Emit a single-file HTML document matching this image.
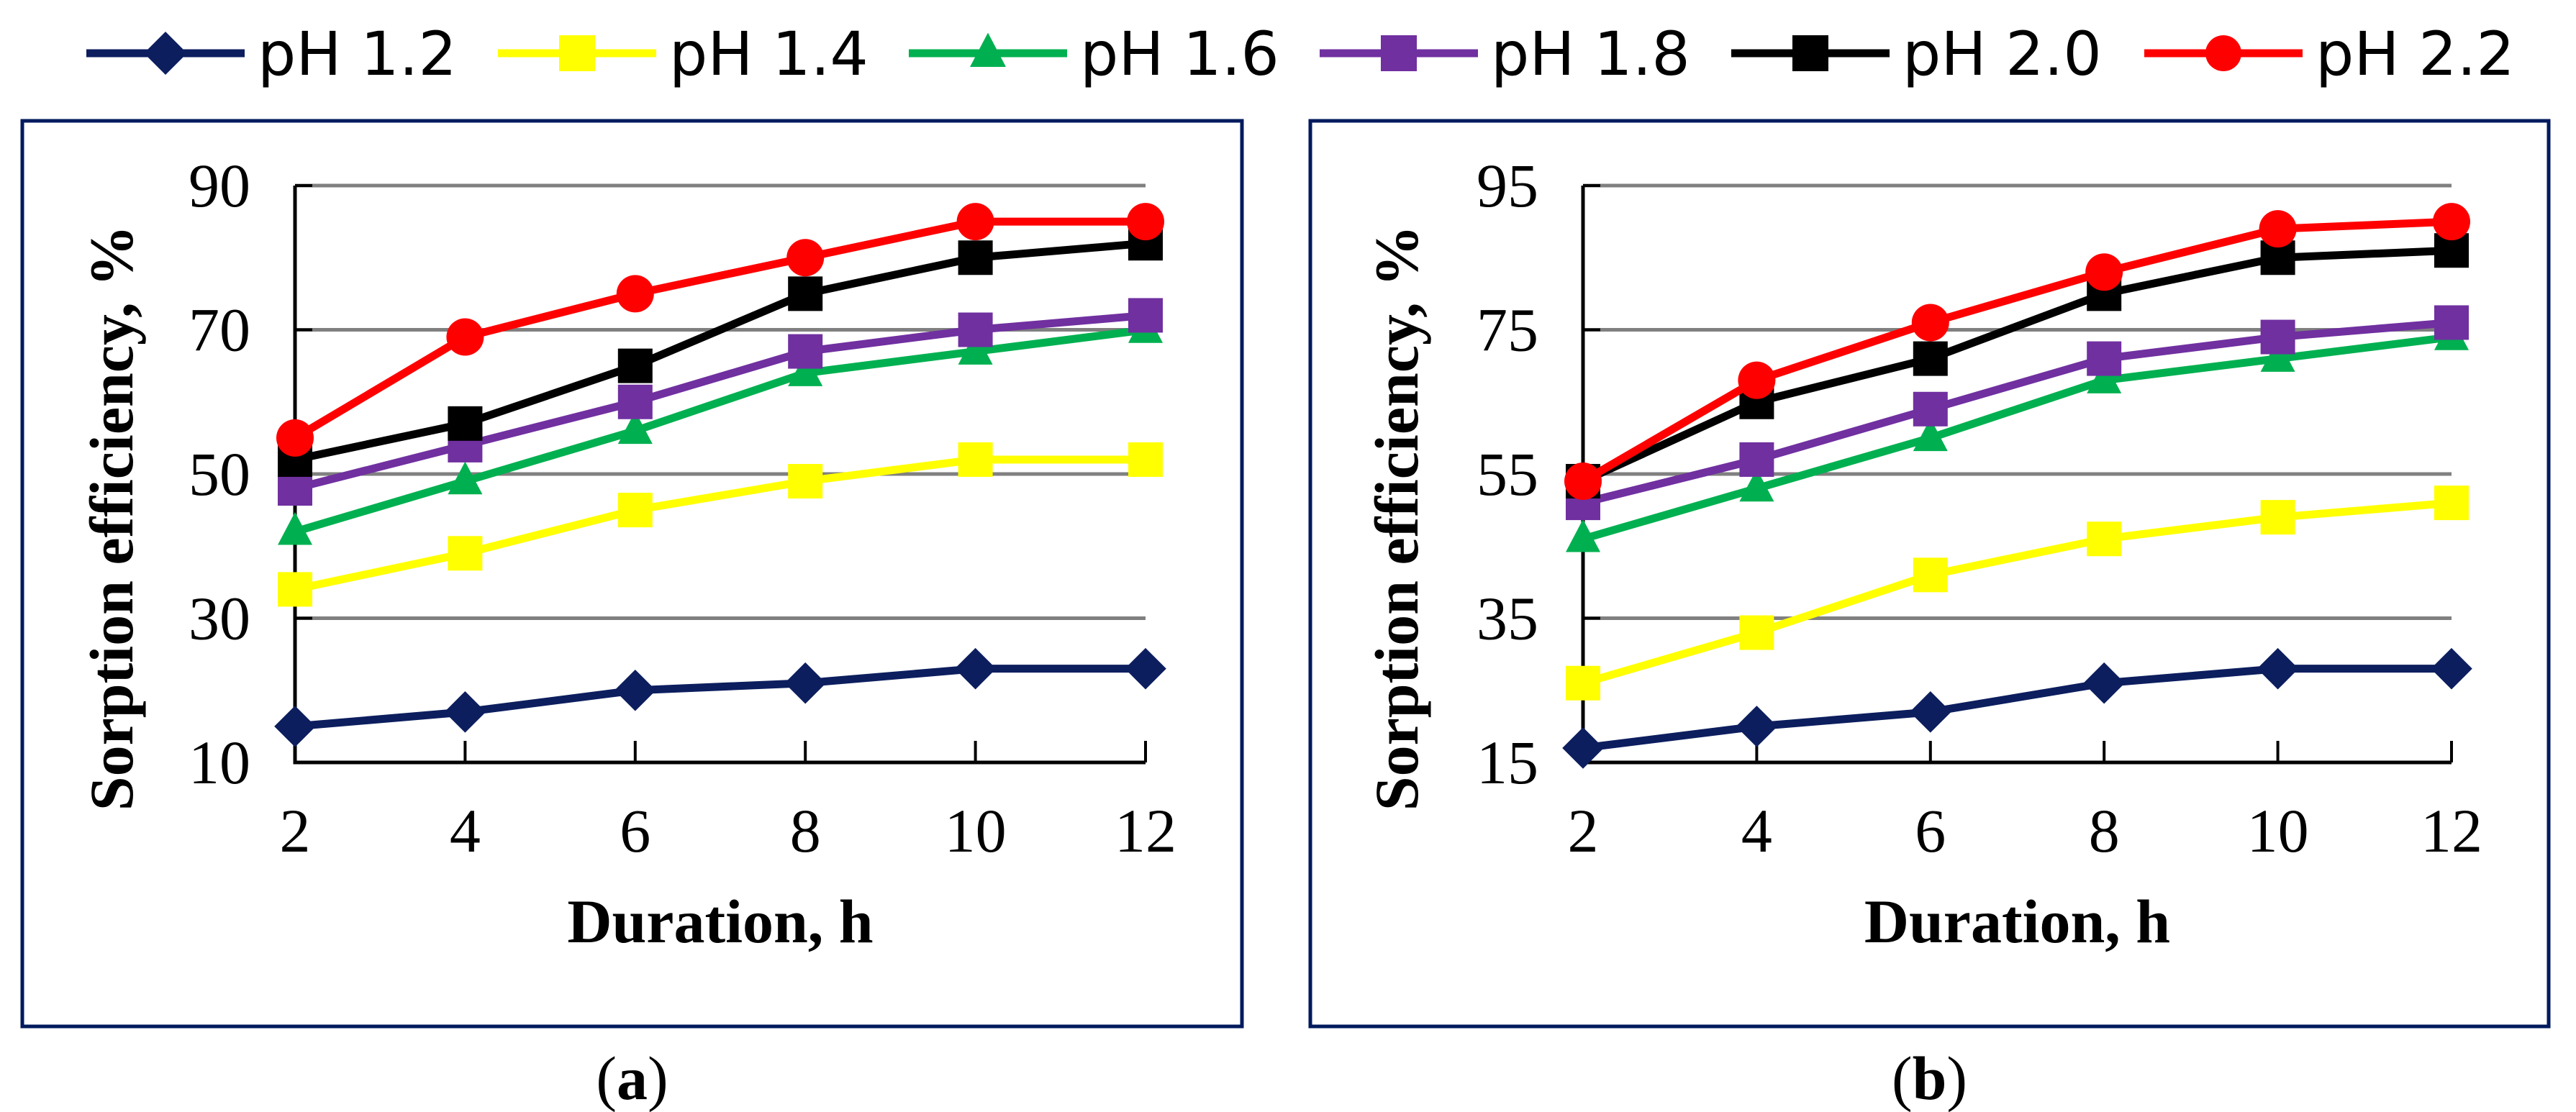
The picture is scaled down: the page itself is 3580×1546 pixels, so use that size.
<!DOCTYPE html>
<html><head><meta charset="utf-8">
<style>
html,body{margin:0;padding:0;background:#fff;}
svg{display:block;}
.tk{font-family:"Liberation Serif","DejaVu Serif",serif;font-size:86px;fill:#000;}
.ttl{font-family:"Liberation Serif","DejaVu Serif",serif;font-size:86px;font-weight:bold;fill:#000;}
.lg{font-family:"DejaVu Sans",sans-serif;font-size:84px;fill:#000;}
</style></head>
<body>
<svg id="fig" width="3580" height="1546" viewBox="0 0 3580 1546" xmlns="http://www.w3.org/2000/svg">
<g id="legend"></g>
<g id="chartA"></g>
<g id="chartB"></g>
</svg>
<script>
const durations = [2,4,6,8,10,12];
const seriesNames = ["pH 1.2","pH 1.4","pH 1.6","pH 1.8","pH 2.0","pH 2.2"];
const seriesColors = ["#0c1e5e","#ffff00","#00b050","#7030a0","#000000","#ff0000"];
const seriesMarkers = ["diamond","square","triangle","square","square","circle"];
const ticksA = [10,30,50,70,90];
const ticksB = [15,35,55,75,95];
const a_pH12 = [15,17,20,21,23,23];
const a_pH14 = [34,39,45,49,52,52];
const a_pH16 = [42,49,56,64,67,70];
const a_pH18 = [48,54,60,67,70,72];
const a_pH20 = [52,57,65,75,80,82];
const a_pH22 = [55,69,75,80,85,85];
const b_pH12 = [17,20,22,26,28,28];
const b_pH14 = [26,33,41,46,49,51];
const b_pH16 = [46,53,60,68,71,74];
const b_pH18 = [51,57,64,71,74,76];
const b_pH20 = [54,65,71,80,85,86];
const b_pH22 = [54,68,76,83,89,90];
const seriesA = [a_pH12,a_pH14,a_pH16,a_pH18,a_pH20,a_pH22];
const seriesB = [b_pH12,b_pH14,b_pH16,b_pH18,b_pH20,b_pH22];

const NS="http://www.w3.org/2000/svg";
function mk(parent,tag,attrs,text){
  const e=document.createElementNS(NS,tag);
  for(const k in attrs) e.setAttribute(k,attrs[k]);
  if(text!==undefined) e.textContent=text;
  parent.appendChild(e); return e;
}
function marker(g,type,cx,cy,color,s){
  let e;
  if(type==="diamond"){
    const r=s*0.6;
    e=mk(g,"polygon",{points:`${cx},${cy-r} ${cx+r},${cy} ${cx},${cy+r} ${cx-r},${cy}`,fill:color});
  } else if(type==="square"){
    e=mk(g,"rect",{x:cx-s/2,y:cy-s/2,width:s,height:s,fill:color});
  } else if(type==="triangle"){
    const h=s*0.95;
    e=mk(g,"polygon",{points:`${cx},${cy-h*0.6} ${cx+s/2},${cy+h*0.4} ${cx-s/2},${cy+h*0.4}`,fill:color});
  } else {
    e=mk(g,"circle",{cx:cx,cy:cy,r:s/2,fill:color});
  }
  return e;
}

const lg=document.getElementById("legend");
const legX=[120,692,1263,1834,2406,2980];
seriesNames.forEach((n,i)=>{
  const g=mk(lg,"g",{});
  
  
  const x=legX[i], y=74;
  mk(g,"line",{x1:x,y1:y,x2:x+220,y2:y,stroke:seriesColors[i],"stroke-width":11});
  marker(g,seriesMarkers[i],x+110,y,seriesColors[i],50);
  const t=mk(g,"text",{x:x+238,y:y+30,class:"lg"},n);
  
  
});

function drawChart(gid,cfg,series,ticks,letter){
  const g=document.getElementById(gid);
  const fr=mk(g,"rect",{x:cfg.fx,y:168,width:cfg.fw,height:1259,fill:"none",stroke:"#021a5e","stroke-width":5});
  
  
  const ymin=ticks[0], ymax=ticks[ticks.length-1];
  const py0=1060, py1=258;
  const yS=v=>py0-(v-ymin)/(ymax-ymin)*(py0-py1);
  const xS=d=>cfg.x0+(d-durations[0])/(durations[durations.length-1]-durations[0])*(cfg.x1-cfg.x0);
  ticks.forEach((t,i)=>{
    const y=yS(t);
    if(i>0){
      const gl=mk(g,"line",{x1:cfg.x0,y1:y,x2:cfg.x1,y2:y,stroke:"#808080","stroke-width":5});
      
      
    }
    mk(g,"line",{x1:cfg.x0,y1:y,x2:cfg.x0+24,y2:y,stroke:"#000","stroke-width":4});
    const tl=mk(g,"text",{x:cfg.x0-62,y:y+29,class:"tk","text-anchor":"end"},String(t));
    
    
  });
  durations.forEach(d=>{
    const x=xS(d);
    mk(g,"line",{x1:x,y1:py0,x2:x,y2:py0-30,stroke:"#000","stroke-width":4});
    const tl=mk(g,"text",{x:x,y:1184,class:"tk","text-anchor":"middle"},String(d));
    
    
  });
  const ax=mk(g,"path",{d:`M${cfg.x0},${py1} V${py0} H${cfg.x1}`,fill:"none",stroke:"#000","stroke-width":5});
  
  
  series.forEach((vals,i)=>{
    const sg=mk(g,"g",{});
    
    
    const pts=vals.map((v,j)=>xS(durations[j])+","+yS(v)).join(" ");
    mk(sg,"polyline",{points:pts,fill:"none",stroke:seriesColors[i],"stroke-width":11,"stroke-linejoin":"round"});
    vals.forEach((v,j)=>{
      const m=marker(sg,seriesMarkers[i],xS(durations[j]),yS(v),seriesColors[i],seriesMarkers[i]==="circle"?52:48);
      
      
    });
  });
  const xt=mk(g,"text",{x:(cfg.x0+cfg.x1)/2,y:1310,class:"ttl","text-anchor":"middle"},"Duration, h");
  
  
  const yt=mk(g,"text",{x:0,y:0,class:"ttl","text-anchor":"middle",transform:`translate(${cfg.ytx},720) rotate(-90)`},"Sorption efficiency, %");
  
  
  const cap=mk(g,"text",{x:cfg.fx+cfg.fw/2,y:1528,class:"tk","text-anchor":"middle"},"(");
  
  
  mk(cap,"tspan",{"font-weight":"bold"},letter);
  mk(cap,"tspan",{},")");
}
drawChart("chartA",{fx:31,fw:1695,x0:410,x1:1592,ytx:184},seriesA,ticksA,"a");
drawChart("chartB",{fx:1821,fw:1721,x0:2200,x1:3407,ytx:1970},seriesB,ticksB,"b");
</script>
</body></html>
